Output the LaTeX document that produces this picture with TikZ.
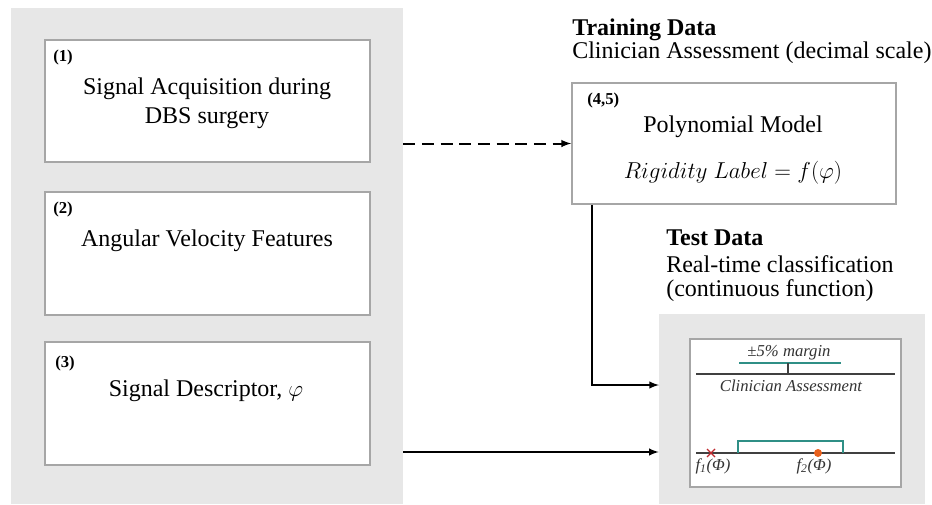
\documentclass[tikz,border=0pt]{standalone}
\usepackage{amsmath}
\usepackage{fontspec}
\setmainfont{Liberation Serif}
\usetikzlibrary{positioning}
\definecolor{panelgray}{HTML}{E7E7E7}
\definecolor{edgegray}{HTML}{A6A6A6}
\definecolor{marginteal}{HTML}{2F8F86}
\definecolor{crossred}{HTML}{C0282D}
\definecolor{dotorange}{HTML}{E8601C}
\tikzset{
  boxsize/.style 2 args={minimum width=#1*0.75pt,minimum height=#2*0.75pt},
  panel/.style={fill=panelgray,draw=none,inner sep=0pt},
  stagebox/.style={fill=white,draw=edgegray,line width=1.2pt,inner sep=0pt},
  steplabel/.style={font=\fontsize{12.5}{14}\selectfont\bfseries,inner sep=0pt},
  boxtext/.style={font=\fontsize{18}{21.75}\selectfont,align=center,inner sep=0pt},
  titletext/.style={font=\fontsize{18}{20}\selectfont\bfseries,inner sep=0pt},
  plottext/.style={font=\fontsize{12.5}{14}\selectfont\itshape,text=black!80,inner sep=0pt},
  flow/.style={line width=1.5pt,-latex},
}
\begin{document}
\begin{tikzpicture}[x=0.75pt,y=-0.75pt]
    \useasboundingbox (0,0) rectangle (932,504);
    %pannello sinistro con i tre passi
    \node[panel,boxsize={392}{496}] (leftpanel) at (207,256) {};
    \node[stagebox,boxsize={325}{122}] (acq) at (207.5,101) {};
    \node[stagebox,boxsize={325}{123}] (feat) at (207.5,253.5) {};
    \node[stagebox,boxsize={325}{123}] (desc) at (207.5,403.5) {};
    \node[steplabel,anchor=west] (acqnum) at (53,57) {(1)};
    \node[boxtext] (acqtxt) at (207,103) {Signal Acquisition during\\DBS surgery};
    \node[steplabel,anchor=west] (featnum) at (53,209) {(2)};
    \node[boxtext] (feattxt) at (207,241) {Angular Velocity Features};
    \node[steplabel,anchor=west] (descnum) at (55,363) {(3)};
    \node[boxtext] (desctxt) at (206,391) {Signal Descriptor, $\varphi$};

    %dati di training e modello
    \node[boxtext,font=\fontsize{18}{15.75}\selectfont,align=left,anchor=west] (traintxt) at (572,41)
        {\textbf{Training Data}\\Clinician Assessment (decimal scale)};
    \node[stagebox,boxsize={324}{121}] (poly) at (734,143.5) {};
    \node[steplabel,anchor=west] (polynum) at (587,100) {(4,5)};
    \node[boxtext] (polytxt) at (733,127) {Polynomial Model};
    \node[boxtext] (polyeq) at (733,173) {$Rigidity\ Label = f(\varphi)$};

    %dati di test
    \node[titletext,anchor=west] (testtitle) at (666,238) {Test Data};
    \node[boxtext,anchor=west] (testsub1) at (666,264) {Real-time classification};
    \node[boxtext,anchor=west] (testsub2) at (666,291) {(continuous function)};
    \node[panel,boxsize={266}{190}] (testpanel) at (792,409) {};
    \node[stagebox,boxsize={211}{148}] (plot) at (795.5,413) {};

    %asse di riferimento con margine
    \draw[line width=1pt,black!75] (696,374) -- (895,374);
    \draw[marginteal,line width=1pt] (739,363) -- (841,363);
    \draw[line width=1pt,black!75] (788,363) -- (788,374);
    \node[plottext] (margintxt) at (789,353) {±5\% margin};
    \node[plottext] (clintxt) at (791,386) {Clinician Assessment};

    %asse delle predizioni
    \draw[line width=1pt,black!75] (696,453) -- (895,453);
    \draw[marginteal,line width=1pt] (738,453) -- (738,441) -- (843,441) -- (843,453);
    \draw[crossred,line width=0.9pt] (707,449) -- (715,457) (707,457) -- (715,449);
    \fill[dotorange] (818,453) circle (3pt);
    \node[plottext] (f1txt) at (713,466) {f\textsubscript{1}(Φ)};
    \node[plottext] (f2txt) at (814,466) {f\textsubscript{2}(Φ)};

    %frecce
    \draw[flow,dash pattern=on 9pt off 5pt] (leftpanel.east |- poly.west) -- (poly.west);
    \coordinate (descout) at (403,452);
    \draw[flow] (descout) -- (descout -| testpanel.west);
    \coordinate (testin) at (659,385);
    \draw[flow] ([xshift=15.75pt]poly.south west) |- (testin);
\end{tikzpicture}
\end{document}
